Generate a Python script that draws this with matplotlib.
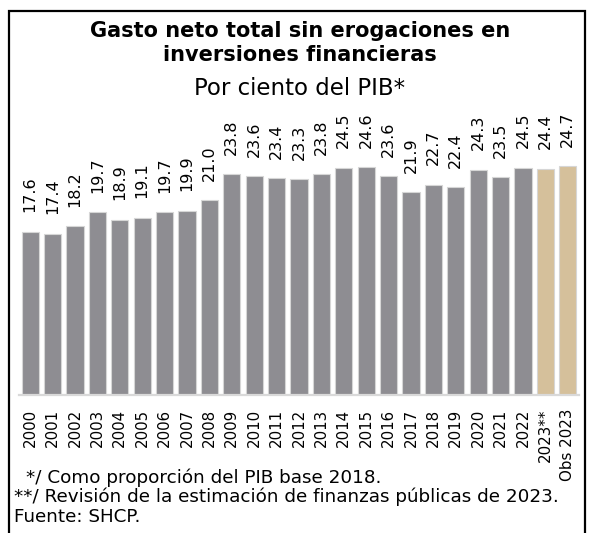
import matplotlib
matplotlib.use("Agg")
import matplotlib.pyplot as plt
from matplotlib.patches import Rectangle

plt.rcParams['font.family'] = ['DejaVu Sans']

# datos: gasto neto total sin erogaciones en inversiones financieras, % del PIB
years = [str(y) for y in range(2000, 2023)] + ["2023**", "Obs 2023"]
values = [17.6, 17.4, 18.2, 19.7, 18.9, 19.1, 19.7, 19.9, 21.0, 23.8,
          23.6, 23.4, 23.3, 23.8, 24.5, 24.6, 23.6, 21.9, 22.7, 22.4,
          24.3, 23.5, 24.5, 24.4, 24.7]
is_estimate = [False] * 23 + [True, True]

GREY = '#8E8D92'
TAN = '#D5C09B'

W, H = 589, 533
fig = plt.figure(figsize=(W / 100, H / 100), dpi=100)

# axes in pixel coords: x from 19 to 579, baseline at y=395, top at y=100
ax = fig.add_axes([19 / W, (H - 395) / H, 560 / W, 295 / H])
colors = [TAN if e else GREY for e in is_estimate]
x = list(range(len(values)))
bars = ax.bar(x, values, width=0.77, color=colors, edgecolor='#D6D6D6', linewidth=0.8)
ax.set_xlim(-0.5, len(values) - 0.5)
ax.set_ylim(0, 295 / 9.27)

for b, v in zip(bars, values):
    ax.annotate(f"{v:.1f}", (b.get_x() + b.get_width() / 2, v),
                xytext=(0, 14), textcoords='offset points',
                rotation=90, ha='center', va='bottom', fontsize=11.5,
                color='black', annotation_clip=False)

ax.set_xticks(x)
ax.set_xticklabels(years, rotation=90, fontsize=10.8, va='top')
ax.tick_params(axis='x', length=0, pad=10)
ax.set_yticks([])
for s in ['left', 'right', 'top']:
    ax.spines[s].set_visible(False)
ax.spines['bottom'].set_color('#D9D9D9')
ax.spines['bottom'].set_linewidth(1.6)

# titulo
cx = 300 / W
fig.text(cx, 1 - 37 / H, "Gasto neto total sin erogaciones en", ha='center',
         va='baseline', fontsize=15, fontweight='bold')
fig.text(cx, 1 - 61 / H, "inversiones financieras", ha='center',
         va='baseline', fontsize=15, fontweight='bold')
fig.text(cx, 1 - 95 / H, "Por ciento del PIB*", ha='center',
         va='baseline', fontsize=16.5)

# notas
fig.text(26 / W, 1 - 483 / H, "*/ Como proporción del PIB base 2018.",
         va='baseline', fontsize=13.2)
fig.text(14 / W, 1 - 502 / H, "**/ Revisión de la estimación de finanzas públicas de 2023.",
         va='baseline', fontsize=13.2)
fig.text(14 / W, 1 - 522 / H, "Fuente: SHCP.", va='baseline', fontsize=13.2)

# marco
fig.add_artist(Rectangle((9 / W, -0.1), 576 / W, 1.1 - 11 / H,
                         transform=fig.transFigure, fill=False,
                         edgecolor='black', linewidth=1.6))

fig.savefig('out.png', dpi=100)
